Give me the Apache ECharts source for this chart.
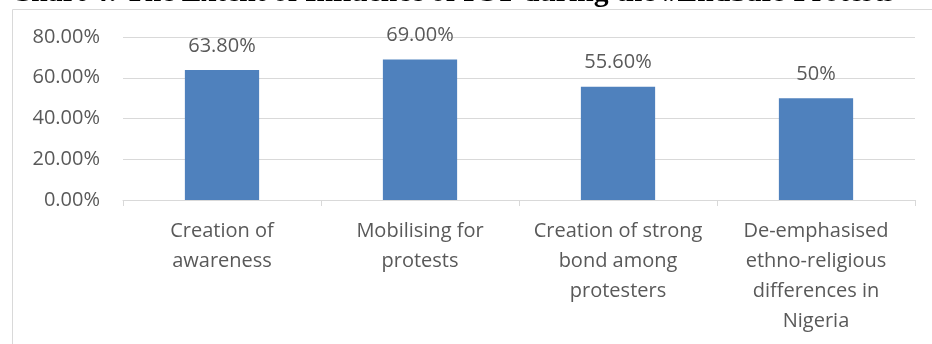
<!DOCTYPE html>
<html><head><meta charset="utf-8">
<script src="https://cdn.jsdelivr.net/npm/echarts@6/dist/echarts.min.js"></script>
<style>html,body{margin:0;padding:0;background:#fff}#c{width:932px;height:344px}</style>
</head><body><div id="c"></div>
<script>
const titleText = 'Chart 4: The Extent of Influence of ICT during the #EndSars Protests';
const categories = ['Creation of\nawareness', 'Mobilising for\nprotests', 'Creation of strong\nbond among\nprotesters', 'De-emphasised\nethno-religious\ndifferences in\nNigeria'];
const values = [63.8, 69.0, 55.6, 50];
const valueLabels = ['63.80%', '69.00%', '55.60%', '50%'];
const yTicks = {min: 0, max: 80, interval: 20};

const chart = echarts.init(document.getElementById('c'), null, {renderer: 'canvas'});
const txt = '#595959';
const font = '"Open Sans", "Noto Sans", sans-serif';
chart.setOption({
  animation: false,
  graphic: [
    {type: 'rect', shape: {x: 12.5, y: 9.5, width: 1000, height: 400}, style: {fill: 'none', stroke: '#d9d9d9', lineWidth: 1}, silent: true},
    {type: 'text', x: 10, y: 8, style: {text: titleText, font: 'bold 29.6px "Liberation Serif", "Times New Roman", serif', fill: '#000', verticalAlign: 'bottom', align: 'left'}, silent: true}
  ],
  grid: {left: 123, right: 17, top: 37, bottom: 144},
  xAxis: {
    type: 'category', data: categories,
    axisLine: {lineStyle: {color: '#d9d9d9', width: 1}},
    axisTick: {show: true, length: 6, lineStyle: {color: '#d9d9d9'}},
    axisLabel: {color: txt, fontFamily: font, fontSize: 20, lineHeight: 30, margin: 16, interval: 0}
  },
  yAxis: {
    type: 'value', min: yTicks.min, max: yTicks.max, interval: yTicks.interval,
    axisLine: {show: false}, axisTick: {show: false},
    splitLine: {lineStyle: {color: '#d9d9d9', width: 1}},
    axisLabel: {color: txt, fontFamily: font, fontSize: 20, margin: 23, formatter: v => v.toFixed(2) + '%'}
  },
  series: [{
    type: 'bar', data: values, barWidth: '37.5%',
    itemStyle: {color: '#4f81bd'},
    label: {show: true, position: 'top', distance: 14, color: txt, fontFamily: font, fontSize: 20,
      formatter: p => valueLabels[p.dataIndex]}
  }]
});
</script></body></html>
